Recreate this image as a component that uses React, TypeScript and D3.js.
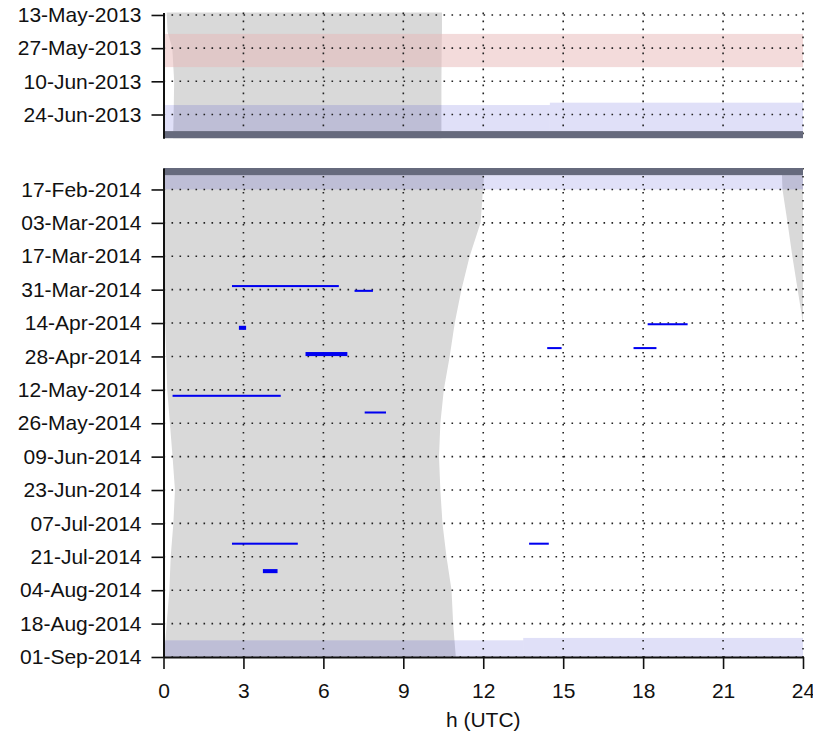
import React, { useEffect, useRef } from 'react';
import * as d3 from 'd3';

const parse = d3.utcParse('%Y-%m-%d');
const fmt = d3.utcFormat('%d-%b-%Y');

const hourTicks = [0, 3, 6, 9, 12, 15, 18, 21, 24];

const ticks2013 = ['2013-05-13', '2013-05-27', '2013-06-10', '2013-06-24'];
const ticks2014 = [
  '2014-02-17', '2014-03-03', '2014-03-17', '2014-03-31', '2014-04-14',
  '2014-04-28', '2014-05-12', '2014-05-26', '2014-06-09', '2014-06-23',
  '2014-07-07', '2014-07-21', '2014-08-04', '2014-08-18', '2014-09-01',
];

const domain2013 = ['2013-05-12', '2013-07-04'];
const domain2014 = ['2014-02-08', '2014-09-01'];

// grey (daylight / shaded) region: start hour & end hour per date
const grayDates2013 = ['2013-05-12', '2013-05-20', '2013-05-27', '2013-06-10', '2013-06-24', '2013-07-04'];
const grayStart2013 = [0.12, 0.15, 0.33, 0.4, 0.38, 0.36];
const grayEnd2013 = [10.45, 10.45, 10.44, 10.43, 10.43, 10.43];

const grayDates2014 = [
  '2014-02-08', '2014-02-17', '2014-03-03', '2014-03-17', '2014-03-31', '2014-04-14',
  '2014-04-28', '2014-05-12', '2014-05-26', '2014-06-09', '2014-06-23', '2014-07-07',
  '2014-07-21', '2014-08-04', '2014-08-18', '2014-09-01',
];
const grayStart2014 = [0, 0, 0, 0, 0.02, 0.06, 0.1, 0.14, 0.24, 0.34, 0.43, 0.37, 0.27, 0.22, 0.12, 0.02];
const grayEnd2014 = [12.05, 11.99, 11.9, 11.49, 11.18, 10.93, 10.74, 10.52, 10.39, 10.34, 10.39, 10.47, 10.62, 10.81, 10.87, 10.97];

const dawnDates2014 = ['2014-02-08', '2014-02-17', '2014-03-03', '2014-03-17', '2014-03-31', '2014-04-14'];
const dawnStart2014 = [23.2, 23.23, 23.42, 23.6, 23.8, 24];

// coloured bands
const bands2013 = [
  { kind: 'red', from: '2013-05-21', to: '2013-06-04', h0: 0, h1: 24 },
  { kind: 'blue', from: '2013-06-20', to: '2013-07-01', h0: 0, h1: 14.5 },
  { kind: 'blue', from: '2013-06-19', to: '2013-07-01', h0: 14.5, h1: 24 },
  { kind: 'dark', from: '2013-07-01', to: '2013-07-04', h0: 0, h1: 24 },
];
const bands2014 = [
  { kind: 'dark', from: '2014-02-08', to: '2014-02-11', h0: 0, h1: 24 },
  { kind: 'blue', from: '2014-02-11', to: '2014-02-17', h0: 0, h1: 24 },
  { kind: 'blue', from: '2014-08-25', to: '2014-09-01', h0: 0, h1: 13.5 },
  { kind: 'blue', from: '2014-08-24', to: '2014-09-01', h0: 13.5, h1: 24 },
];

// blue event segments
const segDates = ['2014-03-29', '2014-03-31', '2014-04-15', '2014-04-26', '2014-05-14', '2014-05-21', '2014-04-14', '2014-04-24', '2014-04-24', '2014-07-15', '2014-07-15', '2014-07-26'];
const segStart = [2.57, 7.17, 2.83, 5.33, 0.34, 7.55, 18.17, 14.4, 17.64, 2.57, 13.72, 3.73];
const segEnd = [6.58, 7.86, 3.1, 6.9, 4.4, 8.35, 19.67, 14.94, 18.5, 5.04, 14.46, 4.28];
const segDays = [1, 1, 2, 2, 1, 1, 1, 1, 1, 1, 1, 2];

const FONT = '"Liberation Sans", Arial, sans-serif';
const W = 813;
const H = 736;

const bandFill: Record<string, { fill: string; op: number }> = {
  red: { fill: '#e8b8b8', op: 0.5 },
  blue: { fill: '#0000c8', op: 0.12 },
  dark: { fill: '#666a7d', op: 1 },
};

export default function App() {
  const ref = useRef<SVGSVGElement>(null);

  useEffect(() => {
    const svg = d3.select(ref.current);
    svg.selectAll('*').remove();

    const x = d3.scaleLinear().domain([0, 24]).range([163.5, 803]);
    const y1 = d3.scaleUtc().domain(domain2013.map((d) => parse(d)!)).range([12.6, 138.2]);
    const y2 = d3.scaleUtc().domain(domain2014.map((d) => parse(d)!)).range([168, 657]);

    const drawPanel = (
      y: d3.ScaleTime<number, number>,
      gDates: string[], gStart: number[], gEnd: number[],
      bands: typeof bands2013,
      ticks: string[],
      dawn?: { dates: string[]; start: number[] },
    ) => {
      const g = svg.append('g');
      const [top, bottom] = y.range();
      // gray area
      const area = d3
        .area<number>()
        .y((i) => y(parse(gDates[i])!))
        .x0((i) => x(gStart[i]))
        .x1((i) => x(gEnd[i]));
      g.append('path').attr('d', area(d3.range(gDates.length))!).attr('fill', '#d9d9d9');
      if (dawn) {
        const a2 = d3
          .area<number>()
          .y((i) => y(parse(dawn.dates[i])!))
          .x0((i) => x(dawn.start[i]))
          .x1(() => x(24));
        g.append('path').attr('d', a2(d3.range(dawn.dates.length))!).attr('fill', '#d9d9d9');
      }
      // bands
      g.selectAll('rect.band')
        .data(bands.filter((b) => b.kind !== 'dark'))
        .join('rect')
        .attr('x', (b) => x(b.h0))
        .attr('width', (b) => x(b.h1) - x(b.h0))
        .attr('y', (b) => y(parse(b.from)!))
        .attr('height', (b) => y(parse(b.to)!) - y(parse(b.from)!))
        .attr('fill', (b) => bandFill[b.kind].fill)
        .attr('fill-opacity', (b) => bandFill[b.kind].op);
      // grid
      const grid = g.append('g').attr('stroke', '#222').attr('stroke-width', 1.6).attr('stroke-dasharray', '1.6 6.4');
      grid
        .selectAll('line.v')
        .data(hourTicks.filter((h) => h > 0))
        .join('line')
        .attr('x1', (h) => x(h))
        .attr('x2', (h) => x(h))
        .attr('y1', top)
        .attr('y2', bottom);
      grid
        .selectAll('line.h')
        .data(ticks)
        .join('line')
        .attr('class', 'h')
        .attr('x1', x(0))
        .attr('x2', x(24))
        .attr('y1', (t) => y(parse(t)!))
        .attr('y2', (t) => y(parse(t)!));
      // dark bands on top
      g.selectAll('rect.dark')
        .data(bands.filter((b) => b.kind === 'dark'))
        .join('rect')
        .attr('x', (b) => x(b.h0))
        .attr('width', (b) => x(b.h1) - x(b.h0))
        .attr('y', (b) => y(parse(b.from)!))
        .attr('height', (b) => y(parse(b.to)!) - y(parse(b.from)!))
        .attr('fill', bandFill.dark.fill);
      // left axis
      const ax = d3
        .axisLeft(y)
        .tickValues(ticks.map((t) => parse(t)!))
        .tickFormat((d) => fmt(d as Date))
        .tickSize(12)
        .tickSizeOuter(0)
        .tickPadding(10);
      const ag = g.append('g').attr('transform', `translate(${x(0)},0)`).call(ax);
      ag.select('.domain').attr('stroke', '#111').attr('stroke-width', 2);
      ag.selectAll('.tick line').attr('stroke', '#111').attr('stroke-width', 1.6);
      ag.selectAll('.tick text').attr('fill', '#111').style('font-family', FONT).style('font-size', '21px');
      return g;
    };

    drawPanel(y1, grayDates2013, grayStart2013, grayEnd2013, bands2013, ticks2013);
    const g2 = drawPanel(y2, grayDates2014, grayStart2014, grayEnd2014, bands2014, ticks2014, {
      dates: dawnDates2014,
      start: dawnStart2014,
    });

    // segments
    g2.selectAll('rect.seg')
      .data(d3.range(segDates.length))
      .join('rect')
      .attr('class', 'seg')
      .attr('x', (i) => x(segStart[i]))
      .attr('width', (i) => x(segEnd[i]) - x(segStart[i]))
      .attr('y', (i) => {
        const d0 = parse(segDates[i])!;
        const a = y2(d0);
        const b = y2(d3.utcDay.offset(d0, segDays[i]));
        const h = (b - a) * 0.85;
        return (a + b) / 2 - h / 2;
      })
      .attr('height', (i) => {
        const d0 = parse(segDates[i])!;
        return (y2(d3.utcDay.offset(d0, segDays[i])) - y2(d0)) * 0.85;
      })
      .attr('fill', '#0000f0');

    // bottom axis
    const bx = d3.axisBottom(x).tickValues(hourTicks).tickFormat(d3.format('d')).tickSize(12).tickSizeOuter(0).tickPadding(14);
    const bg = svg.append('g').attr('transform', `translate(0,${y2.range()[1]})`).call(bx);
    bg.select('.domain').attr('stroke', '#111').attr('stroke-width', 2);
    bg.selectAll('.tick line').attr('stroke', '#111').attr('stroke-width', 1.6);
    bg.selectAll('.tick text').attr('fill', '#111').style('font-family', FONT).style('font-size', '21px');

    svg
      .append('text')
      .attr('x', x(12))
      .attr('y', 727)
      .attr('text-anchor', 'middle')
      .attr('fill', '#111')
      .style('font-family', FONT)
      .style('font-size', '21px')
      .text('h (UTC)');
  }, []);

  return (
    <svg
      ref={ref}
      width={W}
      height={H}
      style={{ position: 'absolute', left: 0, top: 0, background: '#fff' }}
    />
  );
}
